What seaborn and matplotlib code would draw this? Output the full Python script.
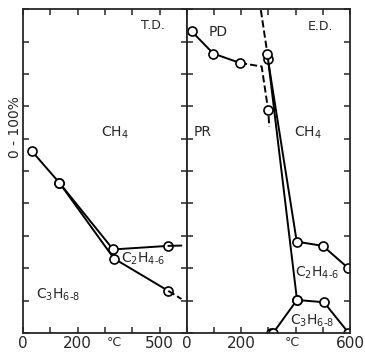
import matplotlib
matplotlib.use("Agg")
import matplotlib.pyplot as plt
import seaborn as sns

sns.set_style("ticks")
plt.rcParams["font.family"] = ["DejaVu Sans"]
plt.rcParams["mathtext.default"] = "regular"

# T.D. panel (left)
td_upper_x = [32, 133, 330, 532, 580]
td_upper_y = [56.2, 46.4, 25.8, 26.9, 27.0]
td_lower_x = [133, 333, 532]
td_lower_y = [46.4, 23.0, 13.0]
td_lower_dash_x = [532, 580]
td_lower_dash_y = [13.0, 10.5]

# E.D. panel (right)
pd_x = [17, 97, 195]
pd_y = [93.2, 86.3, 83.4]
pd_dash_x = [195, 275, 299, 303]
pd_dash_y = [83.4, 82.3, 68.8, 63.7]
top_dash_x = [272, 296]
top_dash_y = [99.7, 86.3]
ch4_x = [298, 404, 500, 594]
ch4_y = [84.5, 28.2, 26.9, 20.0]
c2_x = [296, 405, 504, 594]
c2_y = [86.3, 10.2, 9.5, 0.1]
c3_x = [308, 318, 405]
c3_y = [0.1, 0.1, 10.2]

C2 = r"C$_2$H$_{4\text{-}6}$"
C3 = r"C$_3$H$_{6\text{-}8}$"

fig = plt.figure(figsize=(3.65, 3.52), dpi=100)
ax1 = fig.add_axes([0.063, 0.054, 0.449, 0.920])
ax2 = fig.add_axes([0.512, 0.054, 0.447, 0.920])

solid = dict(color="black", linewidth=1.4, marker="o", markersize=6.5,
             markerfacecolor="white", markeredgecolor="black",
             markeredgewidth=1.2, sort=False, estimator=None)
dash = dict(color="black", linewidth=1.4, linestyle="--", sort=False, estimator=None)

sns.lineplot(x=td_upper_x[:-1], y=td_upper_y[:-1], ax=ax1, **solid)
sns.lineplot(x=td_upper_x[-2:], y=td_upper_y[-2:], ax=ax1, color="black",
             linewidth=1.4, sort=False, estimator=None)
sns.lineplot(x=td_lower_x, y=td_lower_y, ax=ax1, **solid)
sns.lineplot(x=td_lower_dash_x, y=td_lower_dash_y, ax=ax1, **dash)

sns.lineplot(x=pd_dash_x, y=pd_dash_y, ax=ax2, **dash)
sns.lineplot(x=top_dash_x, y=top_dash_y, ax=ax2, **dash)
sns.lineplot(x=pd_x, y=pd_y, ax=ax2, **solid)
sns.lineplot(x=[pd_dash_x[2]], y=[pd_dash_y[2]], ax=ax2, **solid)
sns.lineplot(x=ch4_x, y=ch4_y, ax=ax2, **solid)
sns.lineplot(x=c2_x, y=c2_y, ax=ax2, **solid)
sns.lineplot(x=c3_x, y=c3_y, ax=ax2, **solid)

for ax, labels in [(ax1, ["0", "", "200", "", "", "500", ""]),
                   (ax2, ["0", "", "200", "", "", "", "600"])]:
    ax.set_xlim(0, 600)
    ax.set_ylim(0, 100)
    ax.set_xticks(range(0, 700, 100))
    ax.set_xticklabels(labels, fontsize=11)
    ax.set_yticks(range(0, 110, 10))
    ax.set_yticklabels([])
    ax.tick_params(direction="in", length=4, width=1.1, top=True, bottom=True,
                   left=True, right=True, pad=2)
    for s in ax.spines.values():
        s.set_linewidth(1.3)
        s.set_visible(True)
    ax.set_xlabel("")
    ax.set_ylabel("")

fig.text(15 / 365, 0.639, "0 - 100%", fontsize=10, rotation=90,
         ha="center", va="center")

ax1.text(476, 95, "T.D.", fontsize=9, ha="center", va="center")
ax1.text(335, 61.7, "CH$_4$", fontsize=10, ha="center", va="center")
ax1.text(440, 23, C2, fontsize=10, ha="center", va="center")
ax1.text(129, 11.7, C3, fontsize=10, ha="center", va="center")
fig.text(114 / 365, 9 / 352, "°C", fontsize=9, ha="center", va="center")

ax2.text(114, 93, "PD", fontsize=10, ha="center", va="center")
ax2.text(490, 94.5, "E.D.", fontsize=9, ha="center", va="center")
ax2.text(59, 62, "PR", fontsize=10, ha="center", va="center")
ax2.text(446, 61.7, "CH$_4$", fontsize=10, ha="center", va="center")
ax2.text(477, 18.5, C2, fontsize=10, ha="center", va="center")
ax2.text(459, 3.8, C3, fontsize=10, ha="center", va="center")
fig.text(292 / 365, 9 / 352, "°C", fontsize=9, ha="center", va="center")

fig.savefig("out.png", dpi=100)
